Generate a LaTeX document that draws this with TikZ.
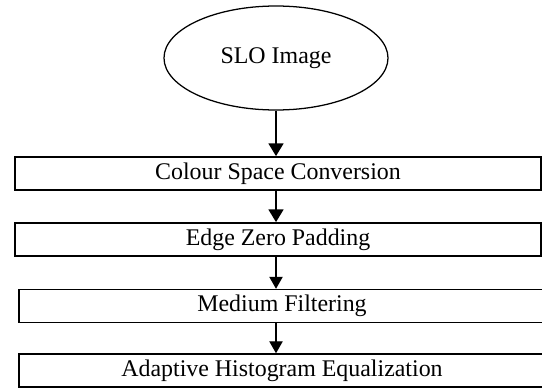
\documentclass[tikz,border=0pt]{standalone}
\usepackage{fontspec}
\setmainfont{Liberation Serif}
\usetikzlibrary{shapes.geometric,arrows.meta}

\begin{document}
\begin{tikzpicture}[font=\fontsize{17}{20}\selectfont,
	procbox/.style={rectangle, draw, line width=1.1pt, minimum width=13.15cm, minimum height=0.83cm, inner sep=0pt},
	flowarrow/.style={-{Triangle[width=10.5pt,length=9pt]}, line width=1.4pt},
	thinarrow/.style={-{Triangle[width=9.5pt,length=8.5pt]}, line width=0.8pt}]
	\useasboundingbox (0,0) rectangle (13.55,-9.7);
	\node (SLO)  at (6.9,  -1.45)	[ellipse, draw, line width=0.9pt, minimum width=5.6cm, minimum height=2.6cm]	{SLO Image};
	\node (CSC)  at (6.95, -4.3375)	[procbox]	{Colour Space Conversion};
	\node (EZP)  at (6.95, -5.9875)	[procbox]	{Edge Zero Padding};
	\node (MF)   at (7.05, -7.65)	[procbox, line width=0.9pt]	{Medium Filtering};
	\node (AHE)  at (7.05, -9.2625)	[procbox, line width=0.9pt]	{Adaptive Histogram Equalization};
	\draw[flowarrow] (SLO) -- (SLO |- CSC.north);
	\draw[flowarrow] (SLO |- CSC.south) -- (SLO |- EZP.north);
	\draw[thinarrow] (SLO |- EZP.south) -- (SLO |- MF.north);
	\draw[thinarrow] (SLO |- MF.south) -- (SLO |- AHE.north);
\end{tikzpicture}
\end{document}
